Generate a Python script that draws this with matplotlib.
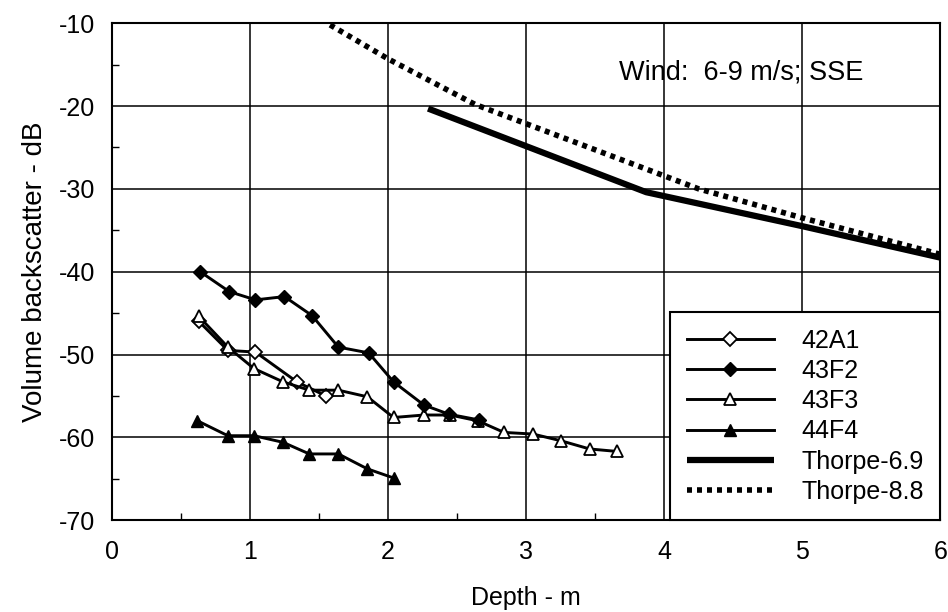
import matplotlib.pyplot as plt
from matplotlib.ticker import MultipleLocator

plt.rcParams['font.family'] = ['Liberation Sans', 'DejaVu Sans']
plt.rcParams['axes.unicode_minus'] = False

# 42A1 - open diamonds
x_42a1 = [0.63, 0.84, 1.04, 1.34, 1.55]
y_42a1 = [-46.0, -49.5, -49.7, -53.3, -55.0]

# 43F2 - filled diamonds
x_43f2 = [0.64, 0.85, 1.04, 1.25, 1.45, 1.64, 1.86, 2.04, 2.26, 2.44, 2.66]
y_43f2 = [-40.0, -42.4, -43.4, -43.0, -45.3, -49.1, -49.8, -53.3, -56.1, -57.2, -57.9]

# 43F3 - open triangles
x_43f3 = [0.63, 0.84, 1.03, 1.24, 1.43, 1.64, 1.85, 2.04, 2.26, 2.45, 2.65,
          2.84, 3.05, 3.25, 3.46, 3.66]
y_43f3 = [-45.4, -49.1, -51.7, -53.3, -54.3, -54.3, -55.1, -57.6, -57.3, -57.3, -58.0,
          -59.4, -59.6, -60.4, -61.4, -61.7]

# 44F4 - filled triangles
x_44f4 = [0.62, 0.84, 1.03, 1.24, 1.43, 1.64, 1.85, 2.04]
y_44f4 = [-58.0, -59.8, -59.8, -60.6, -62.0, -62.0, -63.8, -64.9]

# Thorpe model curves
x_th69 = [2.29, 3.87, 5.0, 6.0]
y_th69 = [-20.3, -30.4, -34.5, -38.3]
x_th88 = [1.58, 2.0, 2.63, 4.25, 5.0, 6.0]
y_th88 = [-10.2, -14.3, -19.8, -30.0, -33.5, -37.9]

fig = plt.figure(figsize=(9.48, 6.12), dpi=100)
ax = fig.add_axes([0.118, 0.150, 0.874, 0.812])

lw = 2.1
ax.plot(x_42a1, y_42a1, color='k', lw=lw, marker='D', ms=7, mfc='white', mec='k', mew=1.3,
        label='42A1', zorder=4)
ax.plot(x_43f2, y_43f2, color='k', lw=lw, marker='D', ms=7, mfc='k', mec='k',
        label='43F2', zorder=5)
ax.plot(x_43f3, y_43f3, color='k', lw=lw, marker='^', ms=8.5, mfc='white', mec='k', mew=1.3,
        label='43F3', zorder=4)
ax.plot(x_44f4, y_44f4, color='k', lw=lw, marker='^', ms=8.5, mfc='k', mec='k',
        label='44F4', zorder=4)
ax.plot(x_th69, y_th69, color='k', lw=4.5, solid_capstyle='butt', label='Thorpe-6.9', zorder=3)
ax.plot(x_th88, y_th88, color='k', lw=4.0, linestyle=(0, (0.9, 0.9)),
        dash_capstyle='butt', label='Thorpe-8.8', zorder=3)

ax.set_xlim(0, 6)
ax.set_ylim(-70, -10)
ax.xaxis.set_major_locator(MultipleLocator(1))
ax.xaxis.set_minor_locator(MultipleLocator(0.5))
ax.yaxis.set_major_locator(MultipleLocator(10))
ax.yaxis.set_minor_locator(MultipleLocator(5))
ax.grid(True, which='major', color='k', lw=1.1)
ax.set_axisbelow(True)
ax.tick_params(which='both', direction='in', labelsize=18, color='k')
ax.tick_params(which='major', length=0, pad=12)
ax.tick_params(which='minor', length=5, width=1)
ax.tick_params(axis='x', pad=14)
for sp in ax.spines.values():
    sp.set_linewidth(1.5)

ax.set_xlabel('Depth - m', fontsize=18, labelpad=16)
ax.set_ylabel('Volume backscatter - dB', fontsize=20, labelpad=8)

ax.text(3.67, -16.0, 'Wind:  6-9 m/s; SSE', fontsize=19.5, va='center', ha='left')

leg = ax.legend(loc='lower right', bbox_to_anchor=(1.0, 0.0), borderaxespad=0,
                fontsize=18, handlelength=3.5, handletextpad=1.1, labelspacing=0.25,
                borderpad=0.65, fancybox=False, framealpha=1, edgecolor='k')
leg.get_frame().set_linewidth(1.5)

fig.savefig('out.png', dpi=100)
